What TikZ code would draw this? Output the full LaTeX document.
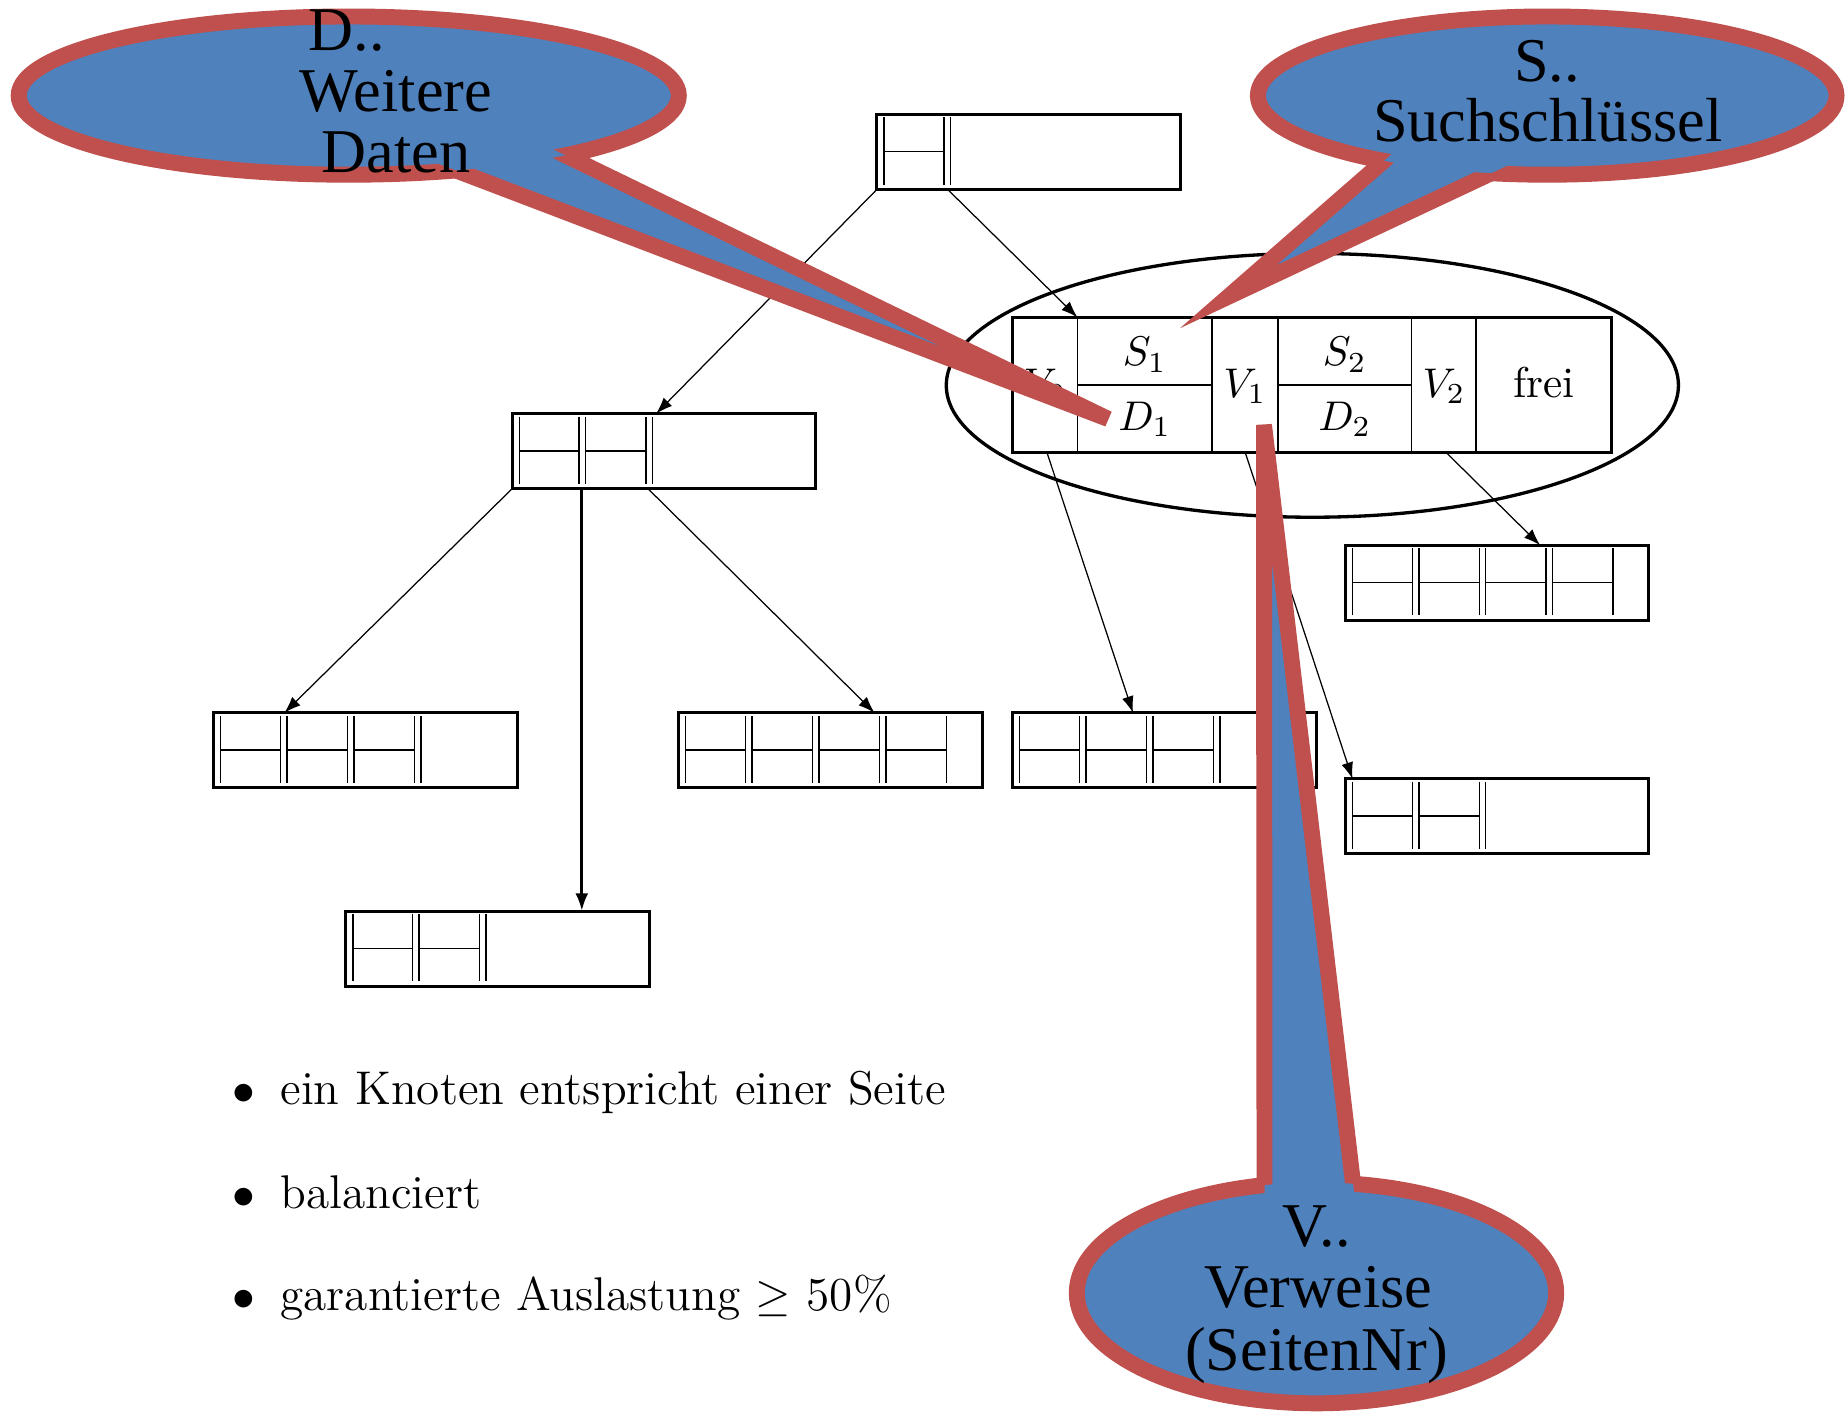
\documentclass[tikz,border=0pt]{standalone}
\usepackage{fontspec}
\newfontfamily\callfont{Liberation Serif}
\usetikzlibrary{calc,arrows.meta,shapes.geometric}
\definecolor{cred}{HTML}{C0504D}
\definecolor{cblue}{HTML}{4F81BD}
\tikzset{
  btnode/.style={draw, line width=0.7pt, minimum width=2.57cm, minimum height=0.635cm,
    inner sep=0pt, outer sep=0pt, anchor=north west},
  cell/.style={line width=0.35pt},
  ptr/.style={line width=0.3pt, -{Latex[length=1.4mm,width=1mm]}},
  ptrthick/.style={line width=0.8pt, -{Latex[length=1.5mm,width=1.1mm]}},
  lbl/.style={font=\fontsize{10.4}{12}\selectfont, inner sep=0pt, anchor=base},
  bullettext/.style={font=\fontsize{11.4}{13}\selectfont, inner sep=0pt},
  callell/.style={ellipse, draw=cred, fill=cblue, line width=1.35mm, inner sep=0pt, outer sep=0pt},
  calltail/.style={draw=cred, line width=1.35mm, line join=bevel},
  calltailsharp/.style={draw=cred, line width=1.35mm, line join=miter, miter limit=10},
  calltext/.style={font=\callfont\fontsize{15}{15}\selectfont, inner sep=0pt, anchor=base},
}
\newcommand\btbox[4]{%
  \node[btnode] (#1) at (#2,#3) {};
  \draw[cell] ($(#1.north west)+(6,2.5)$) -- ++(0,57);
  \foreach \k in {1,...,#4}{%
    \draw[cell] ($(#1.north west)+({56.7*\k},2.5)$) -- ++(0,57);
    \ifnum\k<4 \draw[cell] ($(#1.north west)+({56.7*\k+5.5},2.5)$) -- ++(0,57);\fi
    \draw[cell] ($(#1.north west)+({56.7*(\k-1)+6},31.5)$) -- ($(#1.north west)+({56.7*\k},31.5)$);
  }%
}
\begin{document}
\begin{tikzpicture}[x=0.01cm,y=-0.01cm]
\fill[white] (0,0) rectangle (1565,1196.4);
\useasboundingbox (0,0) rectangle (1565,1196.4);

% B-tree pages
\btbox{root}{743}{97}{1}
\btbox{mid}{434}{350.5}{2}
\btbox{la}{181}{604}{3}
\btbox{lb}{293}{772}{2}
\btbox{lc}{575}{604}{4}
\btbox{ld}{858}{604}{3}
\btbox{le}{1140}{462}{4}
\btbox{lf}{1140}{660}{2}

% detailed page
\node[ellipse, draw, line width=0.8pt, minimum width=6.2cm, minimum height=2.234cm,
  inner sep=0pt, outer sep=0pt] (grp) at (1112,326.5) {};
\node[draw, line width=0.75pt, minimum width=5.07cm, minimum height=1.14cm,
  inner sep=0pt, outer sep=0pt, anchor=north west] (big) at (858,269) {};
\foreach \x in {55,169,225,338,393}
  \draw[line width=0.45pt] ($(big.north west)+(\x,0)$) -- ($(big.south west)+(\x,0)$);
\draw[line width=0.45pt] ($(big.north west)+(55,57)$) -- ($(big.north west)+(169,57)$);
\draw[line width=0.45pt] ($(big.north west)+(225,57)$) -- ($(big.north west)+(338,57)$);
\node[lbl] (v0) at (885.5,337) {$V_0$};
\node[lbl] (s1) at (970,310) {$S_1$};
\node[lbl] (d1) at (970,365) {$D_1$};
\node[lbl] (v1) at (1055,337) {$V_1$};
\node[lbl] (s2) at (1139.5,310) {$S_2$};
\node[lbl] (d2) at (1139.5,365) {$D_2$};
\node[lbl] (v2) at (1223.5,337) {$V_2$};
\node[lbl] (frei) at (1308,337) {frei};

% pointers
\draw[ptr] (root.south west) -- ($(mid.north west)+(122,0)$);
\draw[ptr] ($(root.south west)+(60,0)$) -- ($(big.north west)+(55,0)$);
\draw[ptr] (mid.south west) -- ($(la.north west)+(60,0)$);
\draw[ptrthick] ($(mid.south west)+(59,0)$) -- ($(lb.north west)+(200,0)$);
\draw[ptr] ($(mid.south west)+(115,0)$) -- ($(lc.north west)+(166,0)$);
\draw[ptr] ($(big.south west)+(29,0)$) -- ($(ld.north west)+(102,0)$);
\draw[ptr] ($(big.south west)+(197,0)$) -- ($(lf.north west)+(6,0)$);
\draw[ptr] ($(big.south west)+(367,0)$) -- ($(le.north west)+(165,0)$);

% bullet list
\node[bullettext, anchor=base] (bu1) at (206.5,936) {$\bullet$};
\node[bullettext, anchor=base west] (t1) at (237,936) {ein Knoten entspricht einer Seite};
\node[bullettext, anchor=base] (bu2) at (206.5,1023.7) {$\bullet$};
\node[bullettext, anchor=base west] (t2) at (237,1023.7) {balanciert};
\node[bullettext, anchor=base] (bu3) at (206.5,1110) {$\bullet$};
\node[bullettext, anchor=base west] (t3) at (237,1110) {garantierte Auslastung $\geq$ 50\%};

% callout D
\node[callell, minimum width=5.59cm, minimum height=1.34cm] (dcall) at (295.5,81) {};
\fill[cblue] (220,81) -- (939,355) -- (341,64.5) -- cycle;
\begin{scope}[even odd rule]
  \clip (-10,-10) rectangle (1600,1250) (dcall.center) ellipse [x radius=2.795cm, y radius=0.67cm];
  \draw[calltail] (220,81) -- (939,355) -- (341,64.5);
\end{scope}
\node[calltext] (dt1) at (293.7,43) {D..};
\node[calltext] (dt2) at (335.5,94.4) {Weitere};
\node[calltext] (dt3) at (335.5,146.5) {Daten};

% callout S
\node[callell, minimum width=4.9cm, minimum height=1.34cm] (scall) at (1311,81) {};
\fill[cblue] (1212.7,101.3) -- (1040.6,251.5) -- (1328.4,116.3) -- cycle;
\begin{scope}[even odd rule]
  \clip (-10,-10) rectangle (1600,1250) (scall.center) ellipse [x radius=2.45cm, y radius=0.67cm];
  \draw[calltailsharp] (1212.7,101.3) -- (1040.6,251.5) -- (1328.4,116.3);
\end{scope}
\node[calltext] (st1) at (1311,69) {S..};
\node[calltext] (st2) at (1311.5,119.7) {Suchschlüssel};

% callout V
\node[callell, minimum width=4.06cm, minimum height=1.87cm] (vcall) at (1115.5,1095.5) {};
\fill[cblue] (1071.5,1068) -- (1071,360) -- (1154,1067) -- cycle;
\begin{scope}[even odd rule]
  \clip (-10,-10) rectangle (1600,1250) (vcall.center) ellipse [x radius=2.03cm, y radius=0.935cm];
  \draw[calltail] (1071.5,1068) -- (1071,360) -- (1154,1067);
\end{scope}
\node[calltext] (vt1) at (1115.6,1056) {V..};
\node[calltext] (vt2) at (1117,1107.8) {Verweise};
\node[calltext] (vt3) at (1115.6,1161.5) {(SeitenNr)};
\end{tikzpicture}
\end{document}
